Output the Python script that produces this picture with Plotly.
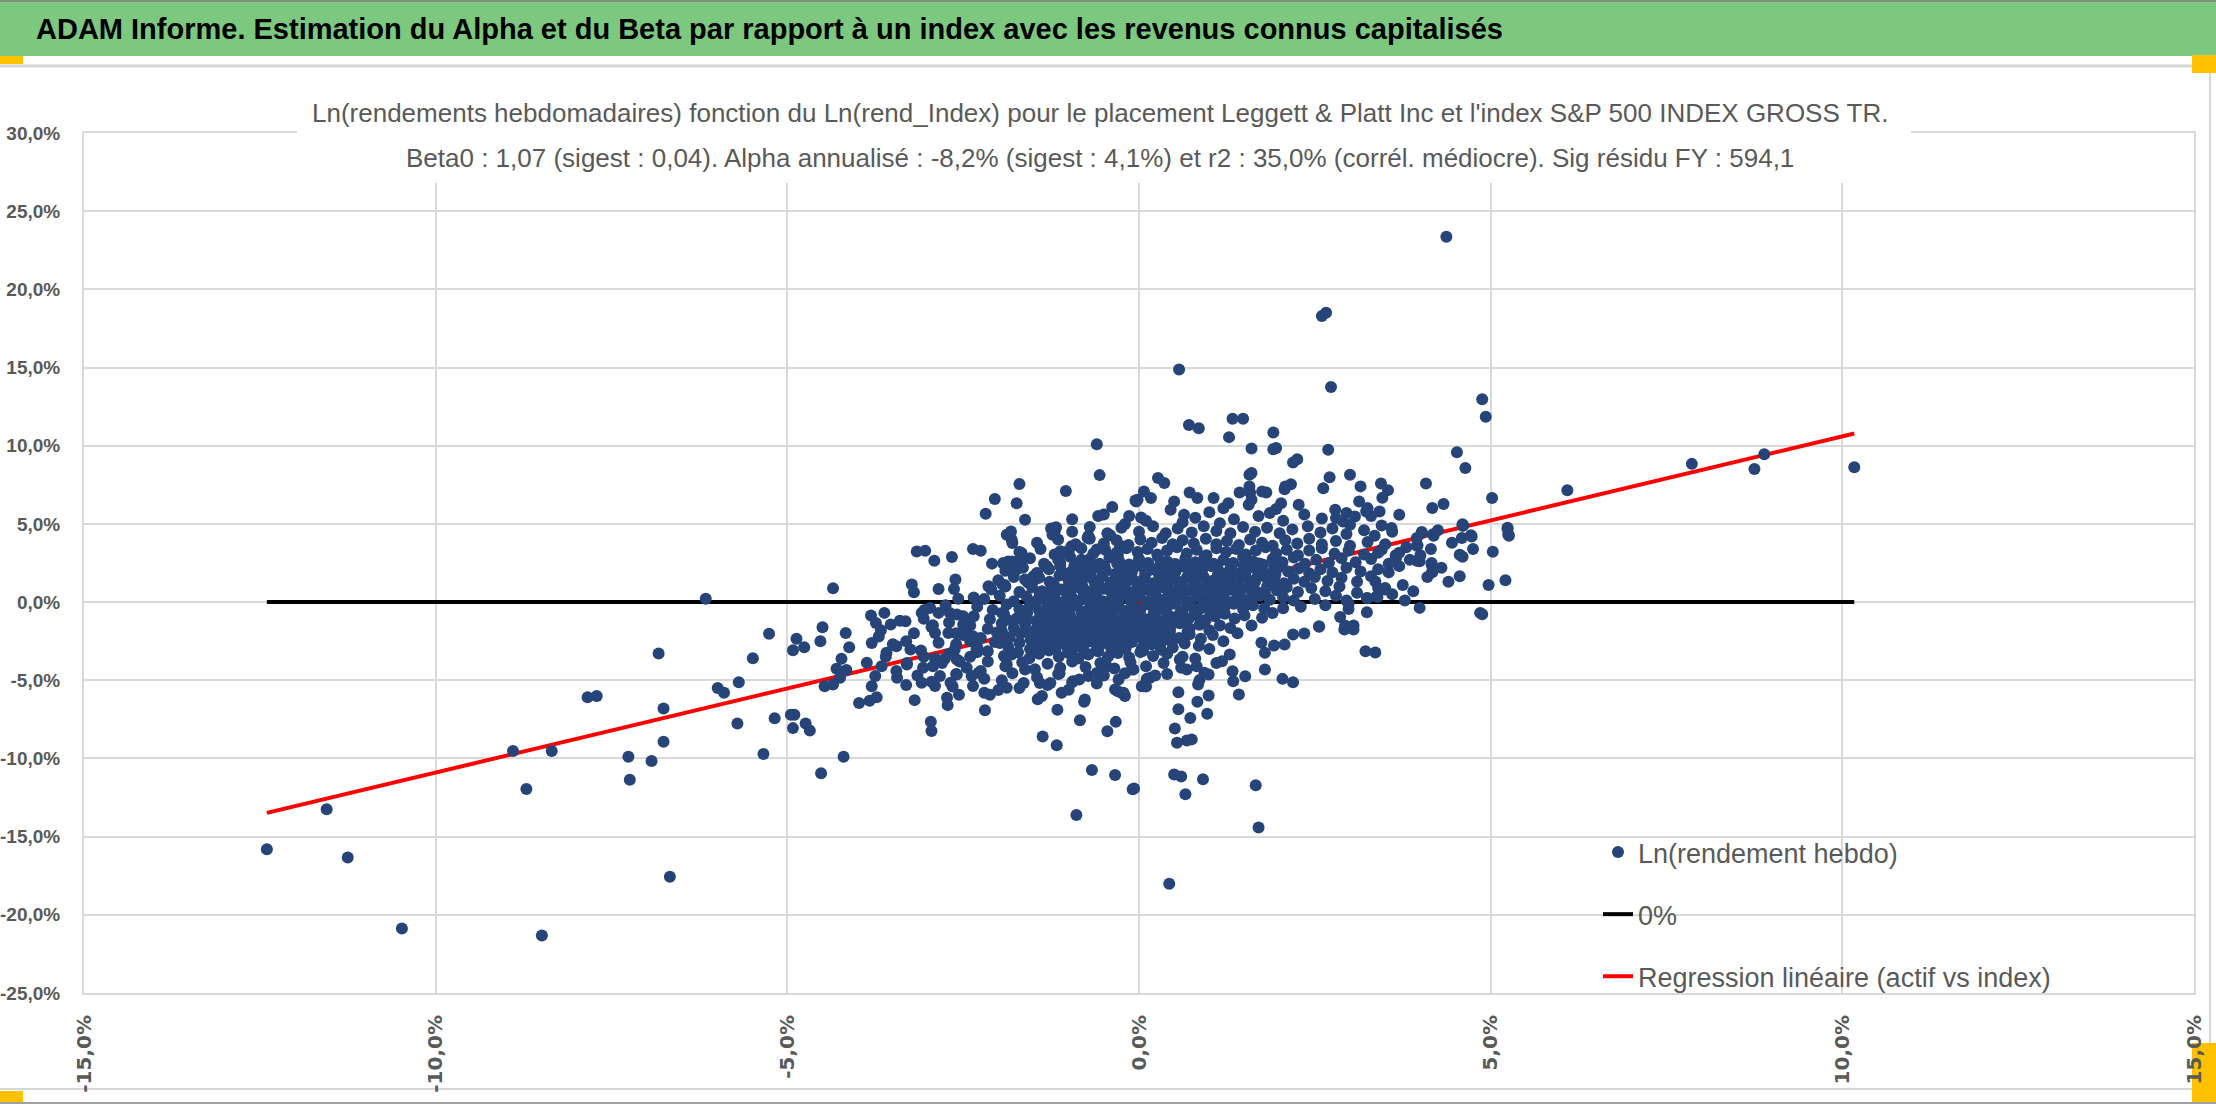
import plotly.graph_objects as go

# ---------------- DATA (values in %) ----------------
pts_left_tail = [
    (-12.40, -15.80), (-11.55, -13.25), (-11.25, -16.34), (-10.48, -20.87), (-8.90, -9.53),
    (-8.71, -11.95), (-8.49, -21.32), (-8.35, -9.53), (-7.84, -6.08), (-7.71, -6.01),
    (-7.26, -9.89), (-7.24, -11.36), (-6.93, -10.17), (-6.83, -3.29), (-6.76, -6.80),
    (-6.76, -8.93), (-6.67, -17.57), (-6.16, 0.22), (-5.99, -5.50), (-5.90, -5.80),
    (-5.71, -7.76), (-5.69, -5.12), (-5.49, -3.59), (-5.34, -9.72), (-5.26, -2.03), (-5.18, -7.43),
]

pts_left_mid = [
    (-4.95, -7.20), (-4.92, -3.08), (-4.92, -8.06), (-4.90, -7.20), (-4.87, -2.35), (-4.76, -2.89),
    (-4.74, -7.76), (-4.68, -8.22), (-4.53, -2.50), (-4.52, -10.95), (-4.50, -1.61), (-4.47, -5.38),
    (-4.35, -5.27), (-4.35, 0.88), (-4.30, -4.27), (-4.25, -4.84), (-4.23, -3.63), (-4.20, -9.89),
    (-4.17, -1.97), (-4.16, -4.35), (-4.12, -2.89), (-3.98, -6.46), (-3.87, -3.88), (-3.83, -6.31),
    (-3.81, -0.86), (-3.80, -2.61), (-3.80, -5.38), (-3.75, -4.73), (-3.74, -1.33), (-3.73, -6.09),
    (-3.67, -1.80), (-3.66, -4.10), (-3.62, -0.69), (-3.59, -3.24), (-3.53, -1.44), (-3.45, -2.82),
    (-3.44, -4.84), (-3.32, -1.22), (-3.31, -2.50), (-3.31, -5.31), (-3.30, -3.99), (-3.25, -3.03),
    (-3.23, 1.12), (-3.20, 0.63), (-3.19, -6.27), (-3.16, 3.24), (-3.04, 3.29), (-2.96, -7.65),
    (-2.95, -8.25), (-2.91, 2.65), (-2.85, 0.83), (-2.73, -6.12), (-2.72, -6.59), (-2.66, 2.89),
    (-2.61, 1.44), (-2.63, 0.83), (-2.57, 0.22), (-2.56, -5.93),
    (-3.09, -0.69), (-3.06, -1.07), (-2.97, -0.37), (-2.85, -0.69), (-2.93, -1.48), (-2.90, -1.97),
    (-2.71, -1.97), (-2.69, -0.69), (-2.59, -0.80), (-2.50, -0.90), (-2.40, -1.11), (-2.50, -1.44),
    (-2.36, -2.18), (-2.31, -3.03), (-2.62, -3.03), (-2.59, -3.67), (-2.76, -3.63), (-2.93, -4.10),
    (-2.83, -4.73), (-3.06, -3.50), (-3.07, -4.20), (-3.09, -5.16), (-2.90, -5.37), (-2.68, -5.16),
    (-2.59, -4.63), (-2.36, -5.37), (-2.28, -4.52), (-2.38, -4.73),
    (-3.40, -1.20), (-3.20, -2.00), (-3.05, -0.50), (-2.95, -1.60), (-2.85, -2.60), (-2.90, -3.60),
    (-3.10, -3.10), (-3.30, -3.90), (-2.75, -0.20), (-2.70, -1.30), (-2.60, -2.00), (-2.55, -3.80),
    (-2.45, -1.70), (-2.40, -2.50), (-2.35, 0.30), (-2.30, -3.20), (-2.25, -4.40),
    (-3.50, -2.70), (-3.60, -3.50), (-3.70, -2.20), (-3.45, -4.40), (-3.15, -4.70), (-2.95, -5.10),
    (-2.65, -5.40), (-2.20, -5.80), (-2.19, -6.91), (-2.12, -5.93), (-2.00, -5.63), (-1.88, -5.48),
]

pts_upper = [
    (-2.36, 3.40), (-2.25, 3.29), (-2.18, 5.65), (-2.05, 6.59), (-2.09, 2.46), (-1.93, 2.46),
    (-1.84, 2.35), (-1.74, 2.08), (-1.67, 3.14), (-1.67, 2.71), (-1.70, 7.55), (-1.74, 6.32),
    (-1.62, 5.27), (-1.88, 4.31), (-1.82, 4.52), (-1.80, 3.78), (-2.14, 1.01), (-1.94, 1.12),
    (-1.62, 1.44), (-1.23, 4.31), (-1.18, 4.78), (-1.04, 7.10), (-0.60, 10.10), (-0.56, 8.12),
    (-0.58, 5.50), (-0.38, 6.08), (-0.14, 5.50), (-0.05, 6.50), (-0.73, 4.12), (-0.41, 4.28),
    (-0.27, 3.56), (-1.08, 3.14), (-1.33, 2.29), (-1.45, 1.86), (-1.48, 1.44),
    (4.37, 23.36), (2.60, 18.30), (2.66, 18.51), (2.73, 13.76), (0.57, 14.87), (4.88, 12.97),
    (4.93, 11.85), (0.71, 11.33), (0.85, 11.12), (1.33, 11.72), (1.48, 11.72), (1.28, 10.55),
    (1.91, 10.84), (1.91, 9.78), (1.95, 9.85), (1.60, 9.82), (2.69, 9.74), (4.52, 9.59),
    (4.64, 8.57), (2.19, 8.92), (2.25, 9.14), (0.27, 7.93), (0.36, 7.61), (1.57, 8.15),
    (1.60, 8.25), (1.58, 7.01), (1.60, 6.55), (1.56, 6.23), (1.75, 7.08), (1.81, 7.01),
    (1.43, 7.01), (0.72, 7.01), (0.83, 6.65), (1.06, 6.65), (0.07, 7.08), (0.17, 6.65),
    (-0.04, 6.44), (-0.02, 6.55), (0.50, 6.44), (0.03, 5.41), (0.64, 5.59), (1.20, 6.00),
    (1.27, 6.32), (2.02, 6.32), (2.07, 7.22), (2.16, 7.54), (2.27, 6.23), (2.62, 7.28),
    (2.71, 7.98), (3.00, 8.15), (3.15, 7.40), (3.44, 7.58), (3.54, 7.16), (3.46, 6.67),
    (3.13, 6.44), (3.23, 5.80), (3.25, 6.01), (2.79, 5.91), (2.80, 5.37), (2.95, 5.70),
    (3.07, 5.48), (3.42, 5.80), (3.70, 5.59), (3.59, 4.74), (4.08, 7.58), (4.17, 6.02),
    (4.33, 6.27), (5.02, 6.65), (6.09, 7.15), (1.86, 5.70), (2.08, 7.40), (1.57, 7.40),
    (4.60, 4.98), (5.24, 4.76), (5.25, 4.34), (4.02, 4.49), (4.18, 4.34), (4.72, 4.28),
    (-0.72, 4.22), (-1.19, 4.74), (-1.22, 4.42),
]

pts_right = [
    (4.02, 4.42), (4.19, 4.25), (3.95, 3.61), (3.99, 2.61), (4.16, 2.40), (4.17, 1.97),
    (3.65, 2.83), (3.40, 3.15), (3.50, 0.90), (3.38, 0.37), (3.24, 0.26), (3.36, 1.32),
    (2.93, -1.50), (3.05, -1.50), (2.98, -0.10), (2.56, -1.54),
    (4.61, 4.90), (4.59, 4.10), (4.73, 4.20), (5.26, 4.25), (5.03, 3.22), (4.56, 3.03),
    (4.56, 1.65), (4.97, 1.10), (5.21, 1.39), (4.85, -0.69), (4.88, -0.78), (4.17, 1.90),
    (4.16, 2.50), (3.96, 2.63), (3.96, 3.63), (3.65, 2.76), (4.60, 4.88), (5.24, 4.67),
    (7.86, 8.84), (8.89, 9.46), (8.75, 8.51), (10.17, 8.62),
    (2.86, -0.95), (2.98, -0.44), (3.24, -0.65), (3.39, 0.33), (3.50, 0.80), (3.78, 0.10),
    (3.99, -0.37), (2.92, -1.76), (3.05, -1.76), (2.56, -1.58), (2.35, -2.01), (2.19, -2.08),
    (2.07, -2.71), (1.92, -2.78), (1.79, -3.24), (1.74, -2.60), (3.22, -3.14), (3.36, -3.22),
    (2.30, -0.30), (2.50, 0.20), (2.65, -0.20), (2.80, 0.40), (2.95, 0.10), (3.10, 0.60),
    (3.25, 0.25), (3.40, 0.90), (3.60, 0.50), (3.75, 1.10), (3.90, 0.70), (2.85, 1.00),
    (3.30, 1.65), (3.55, 1.90), (3.70, 2.30), (3.85, 2.70), (4.00, 3.00), (4.15, 3.40),
    (4.30, 2.20), (4.45, 3.80), (3.95, 4.10), (4.25, 4.60), (3.65, 3.00), (3.80, 3.50),
    (4.10, 1.60), (3.00, 4.95), (3.35, 4.25), (3.60, 4.50), (4.40, 1.30), (4.60, 2.90), (4.75, 3.40),
    (0.80, -3.60), (1.00, -3.00), (1.20, -2.50), (1.40, -2.00), (1.60, -1.50), (1.75, -1.00),
    (1.90, -0.70), (2.05, -0.40), (2.20, 0.10),
]

pts_lower = [
    (0.43, -18.02), (-0.89, -13.61), (1.70, -14.42), (1.66, -11.72), (-0.67, -10.74), (-0.34, -11.06),
    (-0.09, -11.97), (-0.07, -11.92), (0.50, -11.03), (0.60, -11.16), (0.66, -12.29), (0.91, -11.33),
    (0.54, -8.99), (0.51, -8.08), (0.68, -8.85), (0.75, -8.78), (0.56, -6.86), (0.73, -7.42),
    (0.56, -5.76), (0.97, -7.14), (0.99, -5.97), (0.83, -6.37), (-1.37, -8.59), (-1.17, -9.16),
    (-0.84, -7.55), (-0.78, -6.37), (-0.45, -8.26), (-0.33, -7.66), (-1.16, -6.88), (-1.44, -6.22),
    (-1.38, -6.01), (-0.34, -5.59), (-0.20, -6.01), (-0.25, -5.80), (0.04, -5.38), (0.11, -4.91),
    (0.23, -4.69), (0.86, -4.99), (0.93, -4.52), (0.99, -4.63), (1.34, -5.06), (1.42, -5.91),
    (1.51, -4.74), (1.33, -4.42), (1.79, -4.31), (2.04, -4.91), (2.19, -5.12),
    (-1.10, -5.80), (-0.95, -5.12), (-0.72, -4.73), (-0.10, -4.31),
    (1.29, -3.35), (1.18, -3.78), (1.10, -3.89), (0.84, -5.27), (0.58, -3.67), (0.68, -4.31),
    (0.82, -4.10), (0.06, -5.38), (-0.08, -4.31), (-0.29, -4.95), (-0.22, -5.80), (-0.77, -6.23),
    (-0.94, -5.06), (-0.60, -4.53), (-0.51, -4.31), (-0.46, -4.10), (-1.13, -4.57), (-1.26, -5.17),
    (-1.41, -5.17), (-1.64, -5.17), (-1.62, -4.31), (-1.88, -3.99), (-1.81, -3.35), (-1.98, -2.61),
    (-1.95, -1.86), (-1.88, -1.12), (-1.95, -0.69), (-1.91, 1.10), (-1.93, 2.50), (-1.86, 2.60),
    (-1.69, 2.71), (-1.81, 3.99), (-1.50, 1.65), (-1.31, 2.29), (-1.12, 3.25), (-1.12, 2.50),
    (-0.96, 3.57), (-0.82, 2.71), (-0.72, 4.10), (-0.60, 3.36), (-0.32, 3.15), (-0.25, 3.57),
    (-1.20, 4.52), (-1.95, -5.00), (-1.70, -5.50), (-1.30, -5.30), (-1.00, -5.60), (-0.60, -5.20),
    (-0.30, -5.70), (0.10, -5.40), (0.40, -4.60), (0.60, -4.20),
]

pts_core_top = [
    (-0.95, 5.30), (-0.50, 5.60), (0.10, 5.20), (0.45, 5.90), (0.80, 5.40), (1.00, 5.75), (1.35, 5.30),
    (1.70, 5.50), (2.05, 5.20), (2.35, 5.60), (2.60, 5.35), (2.90, 5.15), (3.30, 5.50), (-0.20, 5.00),
    (1.15, 5.05), (1.95, 5.95), (0.62, 5.10),
    (-1.25, 4.70), (-0.95, 4.50), (-0.70, 4.80), (-0.45, 4.40), (-0.25, 4.75), (0.00, 4.50), (0.20, 4.85),
    (0.38, 4.40), (0.55, 4.70), (0.75, 4.45), (0.92, 4.85), (1.10, 4.55), (1.30, 4.40), (1.48, 4.80),
    (1.65, 4.50), (1.82, 4.75), (2.00, 4.40), (2.18, 4.65), (2.40, 4.85), (2.58, 4.45), (2.75, 4.70),
    (2.95, 4.35), (3.20, 4.60), (3.45, 4.90),
    (-1.45, 3.80), (-1.15, 4.00), (-0.90, 3.70), (-0.70, 4.05), (-0.50, 3.75), (-0.32, 3.95), (-0.15, 3.65),
    (0.02, 4.00), (0.18, 3.80), (0.33, 4.10), (0.48, 3.70), (0.62, 3.95), (0.78, 3.75), (0.95, 4.05),
    (1.10, 3.70), (1.25, 3.90), (1.42, 3.65), (1.58, 4.00), (1.75, 3.80), (1.90, 3.60), (2.08, 3.95),
    (2.25, 3.75), (2.42, 4.05), (2.60, 3.70), (2.80, 3.90), (3.00, 3.60), (3.25, 3.85), (3.50, 3.70),
    (-1.70, 3.20), (-1.40, 3.40), (-1.20, 3.05), (-1.00, 3.30), (-0.82, 3.45), (-0.65, 3.10), (-0.48, 3.35),
    (-0.30, 3.00), (-0.18, 3.45), (-0.02, 3.20), (0.12, 3.40), (0.26, 3.05), (0.40, 3.30), (0.54, 3.50),
    (0.68, 3.10), (0.82, 3.35), (0.96, 3.00), (1.10, 3.45), (1.24, 3.20), (1.38, 3.40), (1.52, 3.05),
    (1.66, 3.30), (1.80, 3.50), (1.95, 3.10), (2.10, 3.35), (2.26, 3.00), (2.42, 3.30), (2.60, 3.45),
    (2.78, 3.10), (2.98, 3.30), (3.20, 3.05), (3.45, 3.35), (3.70, 3.15),
]

pts_core_mid = [
    (-1.80, 2.60), (-1.55, 2.80), (-1.35, 2.45), (-1.15, 2.70), (-0.98, 2.90), (-0.84, 2.50), (-0.70, 2.75),
    (-0.56, 2.45), (-0.42, 2.85), (-0.28, 2.60), (-0.14, 2.40), (0.00, 2.75), (0.13, 2.50), (0.27, 2.90),
    (0.40, 2.60), (0.53, 2.40), (0.66, 2.80), (0.80, 2.55), (0.93, 2.85), (1.06, 2.45), (1.20, 2.70),
    (1.34, 2.50), (1.48, 2.90), (1.62, 2.60), (1.76, 2.40), (1.90, 2.75), (2.04, 2.55), (2.20, 2.85),
    (2.36, 2.45), (2.52, 2.70), (2.70, 2.50), (2.88, 2.80), (3.08, 2.55), (3.30, 2.75), (3.55, 2.45),
    (-1.90, 2.00), (-1.65, 2.20), (-1.45, 1.85), (-1.28, 2.10), (-1.12, 2.30), (-0.98, 1.90), (-0.85, 2.15),
    (-0.72, 1.85), (-0.60, 2.25), (-0.47, 2.00), (-0.34, 1.80), (-0.22, 2.20), (-0.10, 1.95), (0.03, 2.30),
    (0.15, 2.05), (0.28, 1.80), (0.40, 2.20), (0.52, 1.95), (0.65, 2.25), (0.78, 1.85), (0.90, 2.10),
    (1.03, 2.30), (1.16, 1.90), (1.30, 2.15), (1.43, 1.85), (1.57, 2.20), (1.70, 2.00), (1.84, 1.80),
    (1.98, 2.25), (2.12, 1.95), (2.27, 2.15), (2.42, 1.85), (2.58, 2.10), (2.75, 1.90), (2.95, 2.20),
    (3.15, 1.95), (3.40, 2.10),
    (-2.00, 1.40), (-1.78, 1.60), (-1.58, 1.25), (-1.42, 1.55), (-1.27, 1.30), (-1.13, 1.70), (-1.00, 1.40),
    (-0.88, 1.20), (-0.76, 1.60), (-0.64, 1.35), (-0.52, 1.65), (-0.40, 1.25), (-0.28, 1.50), (-0.16, 1.70),
    (-0.04, 1.30), (0.08, 1.55), (0.20, 1.20), (0.32, 1.45), (0.44, 1.70), (0.56, 1.30), (0.68, 1.55),
    (0.80, 1.25), (0.92, 1.60), (1.04, 1.35), (1.16, 1.70), (1.28, 1.40), (1.40, 1.20), (1.52, 1.55),
    (1.65, 1.30), (1.78, 1.65), (1.92, 1.40), (2.06, 1.20), (2.20, 1.50), (2.35, 1.30), (2.50, 1.60),
    (2.68, 1.35), (2.88, 1.55), (3.10, 1.30),
    (-2.10, 0.80), (-1.90, 1.00), (-1.70, 0.65), (-1.52, 0.95), (-1.38, 0.70), (-1.24, 1.05), (-1.10, 0.80),
    (-0.98, 0.60), (-0.86, 0.95), (-0.74, 0.70), (-0.62, 1.10), (-0.50, 0.85), (-0.38, 0.60), (-0.26, 0.90),
    (-0.14, 0.65), (-0.02, 1.05), (0.10, 0.80), (0.22, 0.60), (0.34, 0.95), (0.46, 0.70), (0.58, 1.00),
    (0.70, 0.75), (0.82, 0.60), (0.94, 0.95), (1.06, 0.70), (1.18, 1.05), (1.30, 0.80), (1.42, 0.60),
    (1.55, 0.90), (1.68, 0.65), (1.82, 1.00), (1.96, 0.75), (2.10, 0.95), (2.26, 0.65), (2.45, 0.90),
    (2.65, 0.70),
    (-2.20, 0.20), (-1.98, 0.40), (-1.78, 0.05), (-1.60, 0.35), (-1.45, 0.10), (-1.32, 0.45), (-1.20, 0.20),
    (-1.08, 0.00), (-0.96, 0.35), (-0.84, 0.10), (-0.72, 0.45), (-0.60, 0.25), (-0.48, 0.00), (-0.36, 0.30),
    (-0.24, 0.50), (-0.12, 0.10), (0.00, 0.35), (0.12, 0.05), (0.24, 0.40), (0.36, 0.15), (0.48, 0.50),
    (0.60, 0.20), (0.72, 0.00), (0.84, 0.35), (0.96, 0.10), (1.08, 0.45), (1.20, 0.20), (1.32, 0.00),
    (1.45, 0.30), (1.58, 0.10), (1.72, 0.40), (1.86, 0.15), (2.05, 0.30),
]

pts_core_low = [
    (-2.30, -0.30), (-2.08, -0.50), (-1.88, -0.15), (-1.70, -0.45), (-1.55, -0.20), (-1.42, -0.55),
    (-1.30, -0.30), (-1.18, -0.10), (-1.06, -0.45), (-0.94, -0.25), (-0.82, -0.60), (-0.70, -0.35),
    (-0.58, -0.10), (-0.46, -0.50), (-0.34, -0.25), (-0.22, -0.55), (-0.10, -0.20), (0.02, -0.45),
    (0.14, -0.15), (0.26, -0.50), (0.38, -0.30), (0.50, -0.10), (0.62, -0.55), (0.74, -0.25),
    (0.86, -0.45), (0.98, -0.15), (1.10, -0.50), (1.22, -0.30), (1.35, -0.10), (1.48, -0.45),
    (1.62, -0.20), (1.78, -0.40),
    (-2.35, -0.90), (-2.12, -1.10), (-1.92, -0.75), (-1.74, -1.05), (-1.60, -0.80), (-1.46, -1.20),
    (-1.34, -0.90), (-1.22, -0.70), (-1.10, -1.10), (-0.98, -0.85), (-0.86, -1.20), (-0.74, -0.95),
    (-0.62, -0.70), (-0.50, -1.05), (-0.38, -0.80), (-0.26, -1.15), (-0.14, -0.90), (-0.02, -0.70),
    (0.10, -1.10), (0.22, -0.85), (0.34, -1.20), (0.46, -0.95), (0.58, -0.75), (0.70, -1.10),
    (0.82, -0.85), (0.95, -1.15), (1.08, -0.90), (1.22, -0.75), (1.36, -1.05), (1.50, -0.85),
    (-2.40, -1.50), (-2.15, -1.70), (-1.95, -1.35), (-1.78, -1.65), (-1.62, -1.40), (-1.48, -1.80),
    (-1.36, -1.50), (-1.24, -1.30), (-1.12, -1.70), (-1.00, -1.45), (-0.88, -1.80), (-0.76, -1.55),
    (-0.64, -1.30), (-0.52, -1.65), (-0.40, -1.40), (-0.28, -1.75), (-0.16, -1.50), (-0.04, -1.30),
    (0.08, -1.70), (0.20, -1.45), (0.32, -1.80), (0.45, -1.55), (0.58, -1.35), (0.72, -1.70),
    (0.86, -1.45), (1.00, -1.80), (1.15, -1.50), (1.30, -1.65),
    (-2.50, -2.10), (-2.25, -2.30), (-2.02, -1.95), (-1.84, -2.25), (-1.68, -2.00), (-1.54, -2.40),
    (-1.40, -2.10), (-1.28, -1.90), (-1.16, -2.30), (-1.04, -2.05), (-0.92, -2.40), (-0.80, -2.15),
    (-0.68, -1.90), (-0.56, -2.30), (-0.44, -2.05), (-0.32, -2.40), (-0.20, -2.10), (-0.08, -1.95),
    (0.05, -2.35), (0.18, -2.10), (0.30, -2.40), (0.43, -2.00), (0.57, -2.30), (0.72, -2.05),
    (0.88, -2.35), (1.05, -2.10),
    (-2.60, -2.70), (-2.30, -2.90), (-2.05, -2.55), (-1.86, -2.85), (-1.70, -2.60), (-1.55, -3.00),
    (-1.42, -2.70), (-1.30, -2.50), (-1.18, -2.90), (-1.06, -2.65), (-0.94, -3.00), (-0.82, -2.75),
    (-0.70, -2.50), (-0.58, -2.90), (-0.46, -2.65), (-0.34, -3.00), (-0.22, -2.70), (-0.10, -2.55),
    (0.04, -2.95), (0.18, -2.70), (0.32, -2.55), (0.48, -2.90), (0.65, -2.65), (0.85, -2.80),
    (-2.70, -3.30), (-2.40, -3.50), (-2.15, -3.15), (-1.92, -3.45), (-1.72, -3.20), (-1.56, -3.60),
    (-1.42, -3.30), (-1.28, -3.10), (-1.14, -3.50), (-1.00, -3.25), (-0.86, -3.60), (-0.72, -3.35),
    (-0.58, -3.15), (-0.44, -3.50), (-0.30, -3.25), (-0.14, -3.55), (0.02, -3.20), (0.20, -3.45),
    (0.40, -3.30), (0.62, -3.50),
    (-2.80, -3.90), (-2.45, -4.20), (-2.15, -3.80), (-1.90, -4.10), (-1.66, -3.85), (-1.48, -4.30),
    (-1.30, -3.95), (-1.12, -4.20), (-0.95, -3.80), (-0.76, -4.15), (-0.55, -3.90), (-0.35, -4.25),
    (-0.12, -3.85), (0.10, -4.10), (0.35, -3.90),
    (-2.60, -4.60), (-2.20, -4.90), (-1.80, -4.55), (-1.45, -4.80), (-1.15, -4.60), (-0.85, -4.95),
    (-0.50, -4.70), (-0.20, -4.55), (0.15, -4.85),
]

pts_core_dense = [
    (-0.92, 2.31), (-0.71, 2.42), (-0.49, 2.28), (-0.31, 2.46), (-0.08, 2.33), (0.12, 2.41),
    (0.29, 2.27), (0.51, 2.44), (0.72, 2.32), (0.88, 2.39), (1.11, 2.29), (1.31, 2.43),
    (1.49, 2.34), (1.71, 2.47), (1.92, 2.31),
    (-1.08, 1.76), (-0.91, 1.69), (-0.69, 1.81), (-0.52, 1.71), (-0.29, 1.79), (-0.11, 1.72),
    (0.09, 1.83), (0.31, 1.68), (0.49, 1.79), (0.71, 1.72), (0.89, 1.82), (1.12, 1.74),
    (1.29, 1.69), (1.51, 1.81), (1.69, 1.71), (1.94, 1.77),
    (-1.21, 1.12), (-0.99, 1.19), (-0.81, 1.08), (-0.58, 1.21), (-0.41, 1.11), (-0.19, 1.22),
    (0.02, 1.09), (0.19, 1.18), (0.41, 1.12), (0.62, 1.21), (0.79, 1.07), (1.01, 1.16),
    (1.19, 1.22), (1.41, 1.09), (1.62, 1.19), (1.84, 1.11),
    (-1.41, 0.52), (-1.19, 0.61), (-1.02, 0.48), (-0.79, 0.59), (-0.61, 0.51), (-0.39, 0.62),
    (-0.21, 0.49), (0.01, 0.58), (0.19, 0.52), (0.42, 0.61), (0.59, 0.48), (0.81, 0.56),
    (0.99, 0.62), (1.21, 0.51), (1.39, 0.59), (1.61, 0.49), (1.79, 0.56),
    (-1.49, -0.04), (-1.31, 0.02), (-1.09, -0.11), (-0.91, 0.03), (-0.69, -0.09), (-0.52, 0.06),
    (-0.29, -0.06), (-0.11, 0.01), (0.11, -0.09), (0.29, 0.04), (0.51, -0.06), (0.69, 0.02),
    (0.91, -0.11), (1.09, 0.06), (1.31, -0.04), (1.52, 0.01),
    (-1.59, -0.66), (-1.41, -0.59), (-1.19, -0.71), (-1.01, -0.61), (-0.79, -0.69), (-0.61, -0.58),
    (-0.39, -0.66), (-0.21, -0.71), (0.01, -0.61), (0.21, -0.69), (0.39, -0.59), (0.61, -0.66),
    (0.79, -0.71), (1.01, -0.62), (1.19, -0.66),
    (-1.61, -1.24), (-1.39, -1.31), (-1.21, -1.19), (-0.99, -1.29), (-0.81, -1.21), (-0.59, -1.26),
    (-0.41, -1.31), (-0.19, -1.21), (0.01, -1.29), (0.21, -1.19), (0.39, -1.26), (0.61, -1.31),
    (0.89, -1.21),
    (-1.59, -1.86), (-1.41, -1.91), (-1.19, -1.79), (-1.01, -1.89), (-0.79, -1.81), (-0.61, -1.86),
    (-0.39, -1.91), (-0.21, -1.79), (0.01, -1.89), (0.19, -1.81), (0.44, -1.86), (0.69, -1.91),
    (-1.49, -2.46), (-1.31, -2.51), (-1.09, -2.39), (-0.91, -2.49), (-0.69, -2.41), (-0.51, -2.46),
    (-0.29, -2.51), (-0.11, -2.39), (0.16, -2.49), (0.44, -2.44),
    (-1.41, -3.06), (-1.19, -2.99), (-1.01, -3.11), (-0.79, -3.01), (-0.61, -3.09), (-0.39, -3.04),
    (-0.19, -2.99), (0.06, -3.11), (0.31, -3.04),
]

reg_beta = 1.075        # slope of the regression line
reg_intercept = -0.15   # weekly intercept in %

x_tickvals = [-15, -10, -5, 0, 5, 10, 15]
x_ticktext = ["-15,0%", "-10,0%", "-5,0%", "0,0%", "5,0%", "10,0%", "15,0%"]
y_tickvals = [-25, -20, -15, -10, -5, 0, 5, 10, 15, 20, 25, 30]
y_ticktext = ["-25,0%", "-20,0%", "-15,0%", "-10,0%", "-5,0%", "0,0%", "5,0%", "10,0%",
              "15,0%", "20,0%", "25,0%", "30,0%"]

header_text = ("ADAM Informe. Estimation du Alpha et du Beta par rapport à un index "
               "avec les revenus connus capitalisés")
title_line1 = ("Ln(rendements hebdomadaires) fonction du Ln(rend_Index) pour le placement "
               "Leggett & Platt Inc et l'index S&P 500 INDEX GROSS TR.")
title_line2 = ("Beta0 : 1,07 (sigest : 0,04). Alpha annualisé : -8,2% (sigest : 4,1%) et "
               "r2 : 35,0% (corrél. médiocre). Sig résidu FY : 594,1")
legend_names = ["Ln(rendement hebdo)", "0%", "Regression linéaire (actif vs index)"]

# ---------------- BUILD ----------------
all_pts = (pts_left_tail + pts_left_mid + pts_upper + pts_right + pts_lower
           + pts_core_top + pts_core_mid + pts_core_low + pts_core_dense)
x_idx = [p[0] for p in all_pts]
y_rend = [p[1] for p in all_pts]
x_min, x_max = min(x_idx), max(x_idx)
reg_x = [x_min, x_max]
reg_y = [reg_intercept + reg_beta * v for v in reg_x]

W, H = 2216, 1104
ML, MR, MT, MB = 84, 22, 133, 111
PW, PH = W - ML - MR, H - MT - MB


def xp(X):
    return (X - ML) / PW


def yp(Y):
    return (H - MB - Y) / PH


GRAY_TXT = "#595959"
GRID = "#D9D9D9"
SANS = "Liberation Sans, Arial, sans-serif"

fig = go.Figure()
fig.add_trace(go.Scatter(x=reg_x, y=[0, 0], mode="lines", name=legend_names[1],
                         line=dict(color="black", width=4), legendgroup="g2", legendrank=2,
                         hoverinfo="skip"))
fig.add_trace(go.Scatter(x=reg_x, y=reg_y, mode="lines", name=legend_names[2],
                         line=dict(color="#FF0000", width=4), legendgroup="g3", legendrank=3,
                         hoverinfo="skip"))
fig.add_trace(go.Scatter(x=x_idx, y=y_rend, mode="markers", name=legend_names[0],
                         marker=dict(color="#264478", size=12, line=dict(width=0)),
                         legendgroup="g1", legendrank=1))

shapes = [
    # header band
    dict(type="rect", xref="paper", yref="paper", x0=xp(0), x1=xp(W), y0=yp(56), y1=yp(0),
         fillcolor="#7DC87F", line=dict(width=0), layer="below"),
    dict(type="line", xref="paper", yref="paper", x0=xp(0), x1=xp(W), y0=yp(1), y1=yp(1),
         line=dict(color="#7F8F7F", width=2), layer="below"),
    # chart frame
    dict(type="line", xref="paper", yref="paper", x0=xp(0), x1=xp(2210), y0=yp(66), y1=yp(66),
         line=dict(color="#D6D6D6", width=3), layer="below"),
    dict(type="line", xref="paper", yref="paper", x0=xp(2210), x1=xp(2210), y0=yp(66), y1=yp(1089),
         line=dict(color="#D6D6D6", width=2), layer="below"),
    dict(type="line", xref="paper", yref="paper", x0=xp(0), x1=xp(2210), y0=yp(1089), y1=yp(1089),
         line=dict(color="#D6D6D6", width=2), layer="below"),
    dict(type="line", xref="paper", yref="paper", x0=xp(0), x1=xp(W), y0=yp(1103), y1=yp(1103),
         line=dict(color="#A0A0A0", width=2), layer="below"),
    # selection handles
    dict(type="rect", xref="paper", yref="paper", x0=xp(0), x1=xp(23), y0=yp(64), y1=yp(56),
         fillcolor="#FFC000", line=dict(width=0), layer="below"),
    dict(type="rect", xref="paper", yref="paper", x0=xp(2192), x1=xp(W), y0=yp(73), y1=yp(55),
         fillcolor="#FFC000", line=dict(width=0), layer="below"),
    dict(type="rect", xref="paper", yref="paper", x0=xp(0), x1=xp(23), y0=yp(1102), y1=yp(1091),
         fillcolor="#FFC000", line=dict(width=0), layer="below"),
    dict(type="rect", xref="paper", yref="paper", x0=xp(2192), x1=xp(W), y0=yp(1102), y1=yp(1043),
         fillcolor="#FFC000", line=dict(width=0), layer="below"),
    # title background (hides gridlines behind the title)
    dict(type="rect", xref="paper", yref="paper", x0=xp(297), x1=xp(1911), y0=yp(183), y1=yp(84),
         fillcolor="white", line=dict(width=0), layer="above"),
]

annotations = [
    dict(text=header_text, xref="paper", yref="paper", x=xp(34), y=yp(29), xanchor="left",
         yanchor="middle", showarrow=False,
         font=dict(family=SANS, size=29, color="black", weight="bold")),
    dict(text=title_line1, xref="paper", yref="paper", x=xp(1100), y=yp(113), xanchor="center",
         yanchor="middle", showarrow=False, font=dict(family=SANS, size=26, color=GRAY_TXT)),
    dict(text=title_line2, xref="paper", yref="paper", x=xp(1100), y=yp(158), xanchor="center",
         yanchor="middle", showarrow=False, font=dict(family=SANS, size=26, color=GRAY_TXT)),
]

fig.update_layout(
    width=W, height=H,
    margin=dict(l=ML, r=MR, t=MT, b=MB, pad=0, autoexpand=False),
    paper_bgcolor="white", plot_bgcolor="white",
    shapes=shapes, annotations=annotations,
    showlegend=True,
    legend=dict(x=xp(1598), y=yp(828), xanchor="left", yanchor="top",
                bgcolor="rgba(0,0,0,0)", borderwidth=0, tracegroupgap=24,
                font=dict(family=SANS, size=27, color=GRAY_TXT)),
    xaxis=dict(range=[-15, 15], tickvals=x_tickvals, ticktext=x_ticktext, tickangle=-90,
               tickfont=dict(family="DejaVu Sans, Verdana, sans-serif", size=20, color=GRAY_TXT,
                             weight="bold"),
               showgrid=True, gridcolor=GRID, gridwidth=2, zeroline=False,
               showline=True, linecolor=GRID, linewidth=2, mirror=True, ticks="",
               ticklabelstandoff=12, automargin=False, fixedrange=True),
    yaxis=dict(range=[-25, 30], tickvals=y_tickvals, ticktext=y_ticktext,
               tickfont=dict(family=SANS, size=19, color=GRAY_TXT, weight="bold"),
               showgrid=True, gridcolor=GRID, gridwidth=2, zeroline=False,
               showline=True, linecolor=GRID, linewidth=2, mirror=True, ticks="",
               ticklabelstandoff=18, automargin=False, fixedrange=True),
)

fig.write_html("out.html", config={"displayModeBar": False},
               post_script="document.body.style.margin='0';document.body.style.overflow='hidden';")
